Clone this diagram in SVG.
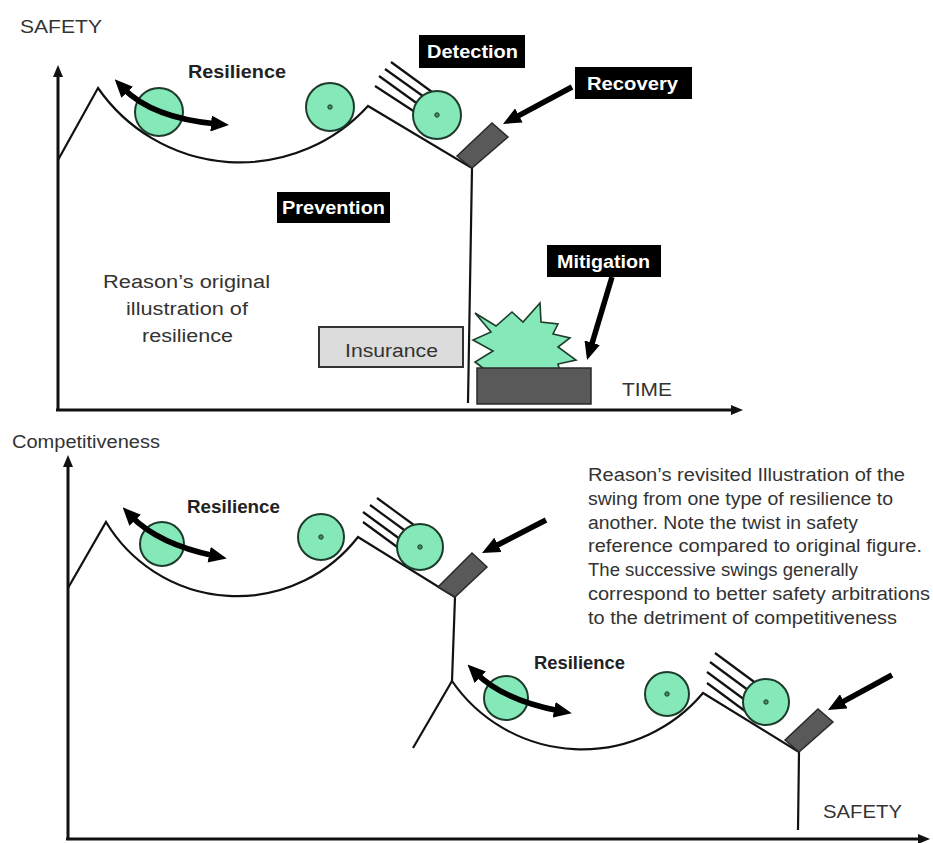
<svg xmlns="http://www.w3.org/2000/svg" width="933" height="843" viewBox="0 0 933 843">
<defs>
<style>
.t{font-family:"Liberation Sans",Arial,sans-serif;font-size:18px;fill:#333}
.b{font-family:"Liberation Sans",Arial,sans-serif;font-size:18px;font-weight:bold;fill:#222}
.w{font-family:"Liberation Sans",Arial,sans-serif;font-size:19px;font-weight:bold;fill:#fff}
.lbl{fill:#000}
.ax{stroke:#111;stroke-width:3;fill:none}
.cv{stroke:#111;stroke-width:2.2;fill:none}
.ball{fill:#85e8b8;stroke:#1d3b2a;stroke-width:2}
.dot{fill:#4a8a68;stroke:#1d3b2a;stroke-width:1}
.blk{fill:#595959;stroke:#2a2a2a;stroke-width:1.5}
.hatch{stroke:#111;stroke-width:2.2}
.arr{stroke:#000;stroke-width:5.5;fill:none}
</style>
<marker id="ah" markerUnits="userSpaceOnUse" markerWidth="18" markerHeight="16" refX="6" refY="8" orient="auto-start-reverse">
<path d="M0,0 L18,8 L0,16 Z" fill="#000"/>
</marker>
<marker id="axh" markerUnits="userSpaceOnUse" markerWidth="12" markerHeight="10" refX="2" refY="5" orient="auto">
<path d="M0,0 L12,5 L0,10 Z" fill="#111"/>
</marker>
</defs>
<rect width="933" height="843" fill="#fff"/>

<!-- TOP PANEL -->
<g id="top-axes">
<path class="ax" d="M58,411 L58,75" marker-end="url(#axh)"/>
<path class="ax" d="M56,410 L733,410" marker-end="url(#axh)"/>
<text class="t" x="20" y="33" textLength="82" lengthAdjust="spacingAndGlyphs">SAFETY</text>
<text class="t" x="622" y="396" font-size="19" textLength="50" lengthAdjust="spacingAndGlyphs">TIME</text>
</g>

<g id="top-track">
<path class="cv" d="M58,160 L98,88 A173,173 0 0 0 368,106 L472,168 L468,403"/>
</g>

<g id="top-hatch">
<line class="hatch" x1="391" y1="62" x2="432" y2="92"/>
<line class="hatch" x1="385" y1="69" x2="427" y2="99"/>
<line class="hatch" x1="379" y1="76" x2="422" y2="107"/>
<line class="hatch" x1="375" y1="86" x2="418" y2="114"/>
</g>

<g id="top-balls">
<circle class="ball" cx="159" cy="112" r="24"/>
<circle class="ball" cx="330" cy="107" r="24"/>
<circle class="dot" cx="330" cy="107" r="2.2"/>
<circle class="ball" cx="437" cy="115" r="24"/>
<circle class="dot" cx="437" cy="115" r="2.2"/>
</g>

<g id="top-barrier">
<polygon class="blk" points="457,156 492,123 508,137 472,168"/>
</g>

<g id="top-explosion">
<polygon fill="#85e8b8" stroke="#1d3b2a" stroke-width="1.6" points="475,313 496,326 512,312 523,322 540,303 541,322 558,324 553,334 570,338 558,347 576,360 558,364 560,372 488,372 475,362 493,351 473,340 491,332"/>
<rect class="blk" x="477" y="368" width="114" height="36"/>
</g>

<g id="insurance">
<rect x="319" y="327" width="144" height="40" fill="#dcdcdc" stroke="#333" stroke-width="2"/>
<text class="t" x="345" y="357" font-size="19" fill="#444" textLength="93" lengthAdjust="spacingAndGlyphs">Insurance</text>
</g>

<g id="label-resilience-top">
<text class="b" x="188" y="78" textLength="98" lengthAdjust="spacingAndGlyphs">Resilience</text>
</g>
<g id="label-detection">
<rect class="lbl" x="419" y="35" width="106" height="33"/>
<text class="w" x="427" y="58" textLength="91" lengthAdjust="spacingAndGlyphs">Detection</text>
</g>
<g id="label-recovery">
<rect class="lbl" x="575" y="67" width="117" height="32"/>
<text class="w" x="587" y="90" textLength="91" lengthAdjust="spacingAndGlyphs">Recovery</text>
</g>
<g id="label-prevention">
<rect class="lbl" x="277" y="192" width="113" height="31"/>
<text class="w" x="282" y="214" textLength="103" lengthAdjust="spacingAndGlyphs">Prevention</text>
</g>
<g id="label-mitigation">
<rect class="lbl" x="547" y="245" width="114" height="32"/>
<text class="w" x="557" y="268" textLength="93" lengthAdjust="spacingAndGlyphs">Mitigation</text>
</g>
<g id="caption-top">
<text class="t" x="103" y="288" textLength="167" lengthAdjust="spacingAndGlyphs">Reason’s original</text>
<text class="t" x="126" y="315" textLength="122" lengthAdjust="spacingAndGlyphs">illustration of</text>
<text class="t" x="142" y="342" textLength="91" lengthAdjust="spacingAndGlyphs">resilience</text>
</g>

<!-- BOTTOM PANEL -->
<g id="bottom-axes">
<path class="ax" d="M68,840 L68,465" marker-end="url(#axh)"/>
<path class="ax" d="M66,839 L920,839" marker-end="url(#axh)"/>
<text class="t" x="12" y="448" textLength="148" lengthAdjust="spacingAndGlyphs">Competitiveness</text>
<text class="t" x="823" y="818" textLength="79" lengthAdjust="spacingAndGlyphs">SAFETY</text>
</g>

<g id="bottom-track">
<path class="cv" d="M68,588 L106,522 A153,153 0 0 0 358,537 L455,597 L452,681"/>
<path class="cv" d="M452,681 L413,748"/>
<path class="cv" d="M452,681 A158,158 0 0 0 703,693 L799,752 L798,830"/>
</g>

<g id="bottom-hatch">
<line class="hatch" x1="377" y1="498" x2="418" y2="528"/>
<line class="hatch" x1="370" y1="505" x2="411" y2="535"/>
<line class="hatch" x1="363" y1="512" x2="404" y2="542"/>
<line class="hatch" x1="363" y1="522" x2="404" y2="552"/>
<line class="hatch" x1="715" y1="653" x2="757" y2="684"/>
<line class="hatch" x1="710" y1="662" x2="752" y2="693"/>
<line class="hatch" x1="707" y1="672" x2="749" y2="703"/>
<line class="hatch" x1="707" y1="683" x2="749" y2="714"/>
</g>

<g id="bottom-balls">
<circle class="ball" cx="162" cy="544" r="22"/>
<circle class="ball" cx="321" cy="537" r="23"/>
<circle class="dot" cx="321" cy="537" r="2.2"/>
<circle class="ball" cx="420" cy="547" r="23"/>
<circle class="dot" cx="420" cy="547" r="2.2"/>
<circle class="ball" cx="506" cy="698" r="22"/>
<circle class="ball" cx="667" cy="694" r="22"/>
<circle class="dot" cx="667" cy="694" r="2.2"/>
<circle class="ball" cx="766" cy="702" r="23"/>
<circle class="dot" cx="766" cy="702" r="2.2"/>
</g>

<g id="bottom-barriers">
<polygon class="blk" points="438,587 472,553 487,567 455,597"/>
<polygon class="blk" points="785,740 818,709 833,722 799,752"/>
</g>

<g id="label-resilience-bottom">
<text class="b" x="187" y="513" textLength="93" lengthAdjust="spacingAndGlyphs">Resilience</text>
<text class="b" x="534" y="669" textLength="91" lengthAdjust="spacingAndGlyphs">Resilience</text>
</g>

<g id="caption-bottom">
<text class="t" x="588" y="481" textLength="317" lengthAdjust="spacingAndGlyphs">Reason’s revisited Illustration of the</text>
<text class="t" x="588" y="505" textLength="305" lengthAdjust="spacingAndGlyphs">swing from one type of resilience to</text>
<text class="t" x="588" y="529" textLength="270" lengthAdjust="spacingAndGlyphs">another. Note the twist in safety</text>
<text class="t" x="588" y="552" textLength="334" lengthAdjust="spacingAndGlyphs">reference compared to original figure.</text>
<text class="t" x="588" y="576" textLength="270" lengthAdjust="spacingAndGlyphs">The successive swings generally</text>
<text class="t" x="588" y="600" textLength="342" lengthAdjust="spacingAndGlyphs">correspond to better safety arbitrations</text>
<text class="t" x="588" y="624" textLength="309" lengthAdjust="spacingAndGlyphs">to the detriment of competitiveness</text>
</g>

<!-- CONNECTORS / ARROWS -->
<g id="connectors">
<path class="arr" d="M123,88 Q152,118 217,124" marker-start="url(#ah)" marker-end="url(#ah)"/>
<path class="arr" d="M572,87 L513.6,118.3" marker-end="url(#ah)"/>
<path class="arr" d="M612,277 L590.5,348.5" marker-end="url(#ah)"/>
<path class="arr" d="M131,516 Q158,544 215,556" marker-start="url(#ah)" marker-end="url(#ah)"/>
<path class="arr" d="M546,520 L492.7,547.5" marker-end="url(#ah)"/>
<path class="arr" d="M476,673 Q503,700 560,711" marker-start="url(#ah)" marker-end="url(#ah)"/>
<path class="arr" d="M892,675 L838.5,704.2" marker-end="url(#ah)"/>
</g>
</svg>
